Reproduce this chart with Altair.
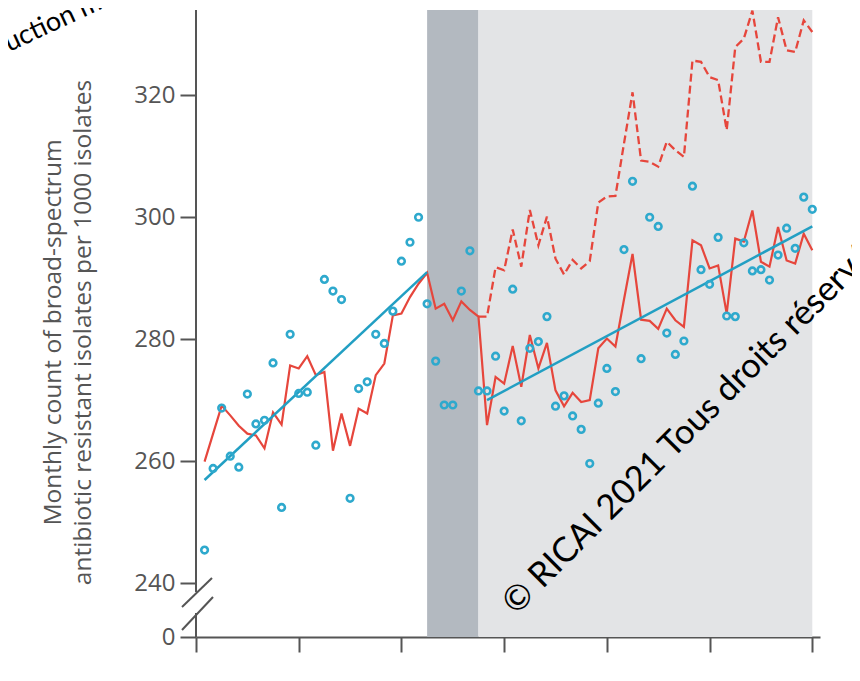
import altair as alt
import pandas as pd

# ---------------- data ----------------
months = list(range(1, 73))
observed = [245.4, 258.8, 268.7, 260.8, 259.0, 271.0, 266.1, 266.7, 276.1, 252.4,
            280.8, 271.1, 271.3, 262.6, 289.8, 287.9, 286.5, 253.9, 271.9, 273.0,
            280.8, 279.3, 284.6, 292.8, 295.9, 300.0, 285.8, 276.4, 269.2, 269.2,
            287.9, 294.5, 271.5, 271.5, 277.2, 268.2, 288.2, 266.6, 278.5, 279.6,
            283.7, 269.0, 270.7, 267.4, 265.2, 259.6, 269.5, 275.2, 271.4, 294.7,
            305.9, 276.8, 300.0, 298.5, 281.0, 277.5, 279.7, 305.1, 291.4, 289.0,
            296.7, 283.8, 283.7, 295.8, 291.2, 291.4, 289.7, 293.8, 298.2, 294.9,
            303.3, 301.3]
modelled = [259.9, 264.5, 269.1, 267.5, 265.8, 264.5, 264.2, 262.1, 268.0, 266.0,
            275.7, 275.2, 277.2, 274.1, 274.6, 261.7, 267.8, 262.5, 268.6, 267.8,
            274.1, 276.0, 283.9, 284.2, 286.9, 289.1, 290.9, 285.0, 285.8, 283.1,
            286.2, 284.8, 283.7, 265.9, 273.8, 272.7, 278.9, 272.2, 280.7, 275.2,
            279.4, 271.6, 269.0, 271.2, 269.7, 270.0, 278.5, 280.1, 278.8, 286.5,
            294.0, 283.2, 283.0, 281.7, 285.0, 283.1, 282.0, 296.2, 295.4, 291.6,
            292.1, 284.2, 296.5, 296.0, 301.1, 292.7, 291.9, 298.4, 292.9, 292.4,
            297.3, 294.6]
cf_months = list(range(33, 73))
counterfactual = [283.7, 283.7, 291.8, 291.3, 298.0, 291.9, 301.2, 295.4, 300.1, 293.2,
                  290.6, 293.0, 291.6, 292.8, 302.4, 303.4, 303.5, 312.1, 320.5, 309.3,
                  309.1, 308.3, 312.4, 311.0, 309.9, 325.7, 325.5, 323.0, 322.5, 314.3,
                  327.9, 329.3, 333.9, 325.5, 325.5, 332.8, 327.4, 327.1, 332.3, 330.4]
trend_pre_months = [1, 27]
trend_pre = [256.9, 291.0]
trend_post_months = [34, 72]
trend_post = [270.0, 298.5]
x_ticks = [0, 12, 24, 36, 48, 60, 72]
y_ticks = [0, 240, 260, 280, 300, 320]
band_start = [27, 33]
band_end = [33, 72]
band_kind = ["transition", "post"]
y_title = ["Monthly count of broad-spectrum",
           "antibiotic resistant isolates per 1000 isolates"]
watermark = "© RICAI 2021 Tous droits réservés"
watermark2 = "Reproduction même partielle interdite"

# ---------------- styling ----------------
W, H = 624, 627
RED = "#e6463c"
TEAL = "#2ea9cd"
TREND = "#229fc3"
AX = "#555555"

xs = alt.Scale(domain=[0, 72.9], nice=False, zero=False)
ys = alt.Scale(domain=[0, 240, 334], range=[H, H - 54, 0], nice=False, zero=False)

obs_df = pd.DataFrame({"m": months, "v": observed})
mod_df = pd.DataFrame({"m": months, "v": modelled})
cf_df = pd.DataFrame({"m": cf_months, "v": counterfactual})
tr_df = pd.DataFrame({
    "m": trend_pre_months + trend_post_months,
    "v": trend_pre + trend_post,
    "seg": ["pre", "pre", "post", "post"],
})
band_df = pd.DataFrame({"s": band_start, "e": band_end, "k": band_kind})

x_axis = alt.Axis(values=x_ticks, labels=False, title=None, grid=False,
                  tickSize=15, tickWidth=2, tickColor=AX,
                  domainWidth=2, domainColor=AX)
y_axis = alt.Axis(values=y_ticks, grid=False, domain=False,
                  tickSize=16, tickWidth=2, tickColor=AX,
                  labelFont="Open Sans", labelFontSize=24, labelColor=AX,
                  labelPadding=5, labelOverlap=False,
                  title=y_title, titleFont="Open Sans", titleFontSize=24.5,
                  titleFontWeight="normal", titleColor=AX, titleLineHeight=30,
                  titleBaseline="bottom", titleX=-131, titleY=322, titleAngle=270)

bands = alt.Chart(band_df).mark_rect().encode(
    x=alt.X("s:Q", scale=xs, axis=x_axis),
    x2="e:Q",
    y=alt.value(0),
    y2=alt.value(H),
    color=alt.Color("k:N", scale=alt.Scale(domain=band_kind,
                                           range=["#b3b9c0", "#e3e4e6"]),
                    legend=None),
)

solid = alt.Chart(mod_df).mark_line(color=RED, strokeWidth=2.2).encode(
    x=alt.X("m:Q", scale=xs),
    y=alt.Y("v:Q", scale=ys, axis=y_axis),
)

dashed = alt.Chart(cf_df).mark_line(color=RED, strokeWidth=2.3,
                                    strokeDash=[8, 4]).encode(
    x=alt.X("m:Q", scale=xs),
    y=alt.Y("v:Q", scale=ys),
)

trend = alt.Chart(tr_df).mark_line(color=TREND, strokeWidth=2.5).encode(
    x=alt.X("m:Q", scale=xs),
    y=alt.Y("v:Q", scale=ys),
    detail="seg:N",
)

dots = alt.Chart(obs_df).mark_point(filled=False, color=TEAL, size=44,
                                    strokeWidth=2.6, opacity=1).encode(
    x=alt.X("m:Q", scale=xs),
    y=alt.Y("v:Q", scale=ys),
)

# broken y-axis line and break marks
axis_df = pd.DataFrame({"a": [0]})
yline_top = alt.Chart(axis_df).mark_rule(color=AX, strokeWidth=2).encode(
    x=alt.value(0), y=alt.value(0), y2=alt.value(582))
yline_bot = alt.Chart(axis_df).mark_rule(color=AX, strokeWidth=2).encode(
    x=alt.value(0), y=alt.value(603), y2=alt.value(H))
slash1 = alt.Chart(axis_df).mark_rule(color=AX, strokeWidth=2).encode(
    x=alt.value(-14), y=alt.value(597), x2=alt.value(16), y2=alt.value(568))
slash2 = alt.Chart(axis_df).mark_rule(color=AX, strokeWidth=2).encode(
    x=alt.value(-14), y=alt.value(620), x2=alt.value(17), y2=alt.value(587))

wm_df = pd.DataFrame({"t": [watermark]})
wm = alt.Chart(wm_df).mark_text(font="Lato", fontSize=34.5, color="black",
                                angle=315, align="left",
                                baseline="alphabetic").encode(
    text="t:N", x=alt.value(320), y=alt.value(606))
wm2_df = pd.DataFrame({"t": [watermark2]})
wm2 = alt.Chart(wm2_df).mark_text(font="Lato", fontSize=27, color="black",
                                  angle=335, align="left",
                                  baseline="alphabetic").encode(
    text="t:N", x=alt.value(-264), y=alt.value(78))

chart = alt.layer(
    bands, solid, dashed, trend, dots,
    yline_top, yline_bot, slash1, slash2, wm, wm2,
).resolve_scale(color="independent").properties(
    width=W, height=H,
    autosize=alt.AutoSizeParams(type="none"),
    padding={"left": 188, "top": 2, "right": 32, "bottom": 36},
    background="white",
).configure_view(stroke=None)

chart.save("out.html", embed_options={"renderer": "svg", "actions": False})
